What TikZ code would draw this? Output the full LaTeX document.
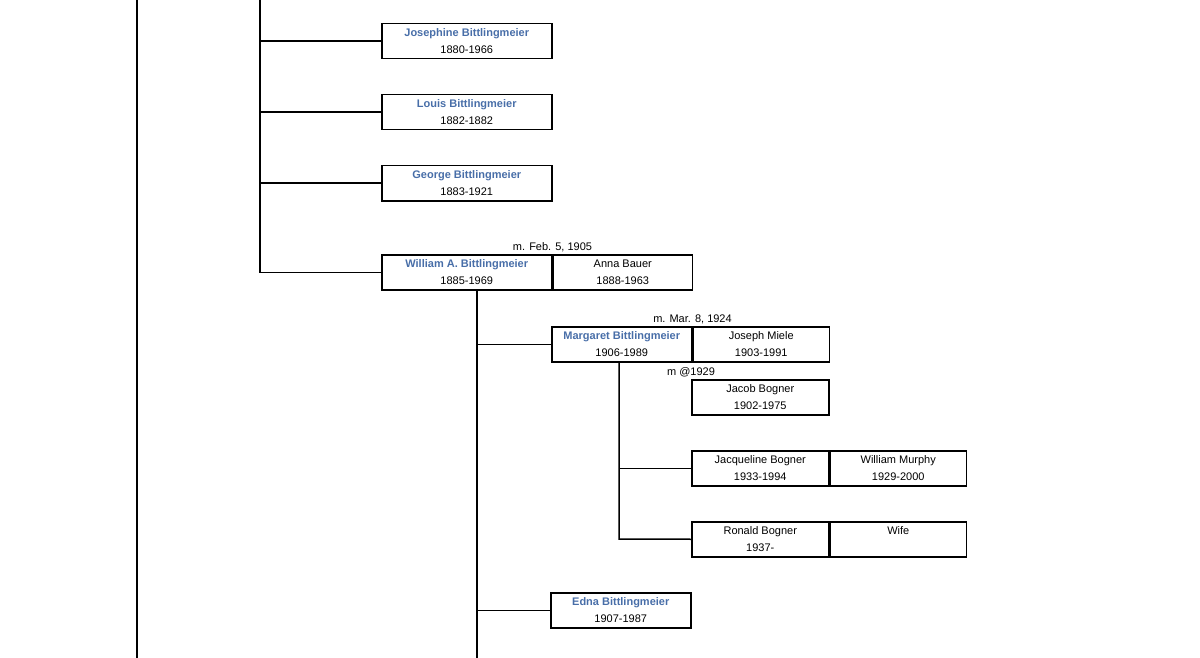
\documentclass[tikz,border=0pt]{standalone}
\usepackage{fontspec}
\setmainfont{Liberation Sans}
\usepackage{xcolor}
\usepackage{tikz}
\usetikzlibrary{positioning}
\definecolor{famblue}{RGB}{72,110,168}
\tikzstyle{famcell} = [draw, line width=1.5pt, minimum height=35, inner sep=0pt, align=center, font=\fontsize{11}{17}\selectfont]
\tikzstyle{famlink} = [draw, line width=1.5pt]
\tikzstyle{famnote} = [inner sep=0pt, anchor=base, font=\fontsize{11}{13}\selectfont]
\newcommand{\bname}[1]{\textcolor{famblue}{\bfseries #1}}
\newcommand{\famsingle}[5]{% #1: node; #2: top-left corner; #3: width; #4: name; #5: years
  \node[famcell, minimum width=#3, anchor=north west] (#1) at (#2) {#4\\#5};
}
\newcommand{\famcouple}[8]{% #1: node; #2: top-left corner; #3,#6: widths; #4,#7: names; #5,#8: years
  \famsingle{#1}{#2}{#3}{#4}{#5}
  \node[famcell, minimum width=#6, anchor=west] (#1-s) at (#1.east) {#7\\#8};
}
\newcommand{\famlinkwest}[2]{% #1: trunk coordinate; #2: child node
  \draw[famlink] (#2.west) -- (#2.west -| #1);
}

\begin{document}
\begin{tikzpicture}[x=1pt, y=-1pt]
  \useasboundingbox (0,0) rectangle (1200,658);
  % 
  \famsingle{josephine}{381,23}{170}{\bname{Josephine Bittlingmeier}}{1880-1966}
  \famsingle{louis}{381,94}{170}{\bname{Louis Bittlingmeier}}{1882-1882}
  \famsingle{george}{381,165}{170}{\bname{George Bittlingmeier}}{1883-1921}
  \famcouple{william}{381,254}{170}{\bname{William A. Bittlingmeier}}{1885-1969}{139}{Anna Bauer}{1888-1963}
  \famcouple{margaret}{551,326}{140}{\bname{Margaret Bittlingmeier}}{1906-1989}{136}{Joseph Miele}{1903-1991}
  \famsingle{jacob}{691,379}{137}{Jacob Bogner}{1902-1975}
  \famcouple{jacqueline}{691,450}{137}{Jacqueline Bogner}{1933-1994}{136}{William Murphy}{1929-2000}
  \famcouple{ronald}{691,521}{137}{Ronald Bogner}{1937-}{136}{Wife}{\mbox{}}
  \famsingle{edna}{550,592}{140}{\bname{Edna Bittlingmeier}}{1907-1987}
  \node[famnote] (wed1) at ([yshift=4pt] william.north east) {m. Feb. 5, 1905};
  \node[famnote] (wed2) at ([yshift=4pt] margaret.north east) {m. Mar. 8, 1924};
  \node[famnote] (wed3) at ([yshift=4pt] jacob.north west) {m @1929};
  % trunks
  \coordinate (left-top) at (137,0);
  \coordinate (left-bot) at (137,658);
  \draw[famlink] (left-top) -- (left-bot);
  \coordinate (gen1-top) at (260,0);
  \draw[famlink] (gen1-top) |- (william.west);
  \foreach \kid in {josephine,louis,george} { \famlinkwest{gen1-top}{\kid} }
  \coordinate (gen2-bot) at (477,658);
  \draw[famlink] (gen2-bot |- william.south) -- (gen2-bot);
  \foreach \kid in {margaret,edna} { \famlinkwest{gen2-bot}{\kid} }
  \coordinate (gen3-bot) at (619,539);
  \draw[famlink] (gen3-bot |- margaret.south) -- (gen3-bot) -- (ronald.west);
  \famlinkwest{gen3-bot}{jacqueline}
\end{tikzpicture}
\end{document}
